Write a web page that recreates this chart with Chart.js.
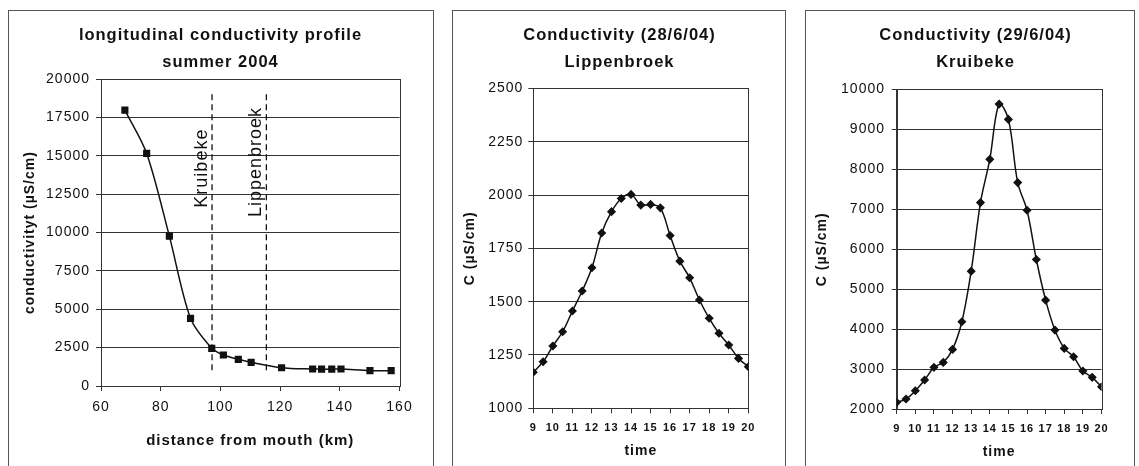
<!DOCTYPE html>
<html>
<head>
<meta charset="utf-8">
<script src="https://cdn.jsdelivr.net/npm/chart.js@4"></script>
<style>
  body { margin: 0; background: #fff; width: 1139px; height: 466px; overflow: hidden; position: relative; }
  .panel { position: absolute; top: 10px; height: 470px; box-sizing: border-box; border: 1px solid #555; }
  canvas { position: absolute; }
</style>
</head>
<body>
<div class="panel" style="left:8px;width:426px"></div>
<div class="panel" style="left:452px;width:334px"></div>
<div class="panel" style="left:805px;width:330px"></div>
<canvas id="myChart1" width="423" height="455" style="left:9px;top:11px"></canvas>
<canvas id="myChart2" width="331" height="455" style="left:453px;top:11px"></canvas>
<canvas id="myChart3" width="327" height="455" style="left:806px;top:11px"></canvas>
<script>
// longitudinal profile (distance from mouth, km / conductivity, uS/cm)
const distKm = [68, 75.3, 82.9, 90, 97.1, 101, 106, 110.3, 120.5, 130.9, 133.9, 137.3, 140.4, 150.1, 157.2];
const profileCond = [17980, 15160, 9770, 4410, 2456, 2020, 1740, 1544, 1192, 1105, 1100, 1100, 1105, 997, 997];
const siteNames = ['Kruibeke', 'Lippenbroek'];
const siteKm = [97.2, 115.4];
const siteLineRange = [1020, 19220];

// time of day (hours)
const hours = [9, 9.5, 10, 10.5, 11, 11.5, 12, 12.5, 13, 13.5, 14, 14.5, 15, 15.5, 16, 16.5, 17, 17.5, 18, 18.5, 19, 19.5, 20];
// Lippenbroek 28/6/04
const lippenCond = [1169, 1218, 1292, 1359, 1456, 1550, 1659, 1822, 1922, 1984, 2003, 1953, 1956, 1940, 1810, 1690, 1612, 1508, 1422, 1352, 1297, 1234, 1195];
// Kruibeke 29/6/04
const kruibekeCond = [2167, 2250, 2458, 2725, 3042, 3167, 3492, 4183, 5450, 7167, 8250, 9633, 9250, 7667, 6975, 5742, 4725, 3975, 3517, 3308, 2950, 2792, 2558];

Chart.defaults.font.family = '"Liberation Sans", Arial, sans-serif';
Chart.defaults.color = '#111';

const ink = '#111';
const gridCol = '#333';

// scanned excel text is a bit spread out
const spacing = {
    id: 'spacing',
    beforeUpdate(chart) { chart.ctx.letterSpacing = '1px'; },
    beforeDraw(chart) { chart.ctx.letterSpacing = '1px'; }
};

// excel centres the title on the whole panel, not on the plot
const centerTitle = {
    id: 'centerTitle',
    defaults: {shift: 0},
    afterLayout(chart, args, opts) {
        const t = chart.titleBlock;
        if (!t) return;
        t.left = opts.shift;
        t.right = chart.width + opts.shift;
        t.width = chart.width;
    }
};

// box round the plot area
const plotFrame = {
    id: 'plotFrame',
    beforeDatasetsDraw(chart) {
        const {ctx, chartArea: a} = chart;
        ctx.save();
        ctx.strokeStyle = gridCol;
        ctx.lineWidth = 1;
        ctx.strokeRect(Math.round(a.left) + 0.5, Math.round(a.top) + 0.5, Math.round(a.right - a.left), Math.round(a.bottom - a.top));
        ctx.restore();
    }
};

// rotated names next to the dashed site lines
const siteLabels = {
    id: 'siteLabels',
    afterDatasetsDraw(chart) {
        const {ctx, scales: {x, y}} = chart;
        const labelAt = [14200, 14600];
        ctx.save();
        ctx.font = '18px "Liberation Sans", Arial, sans-serif';
        ctx.fillStyle = ink;
        ctx.textAlign = 'center';
        ctx.textBaseline = 'middle';
        siteNames.forEach((name, i) => {
            ctx.save();
            ctx.translate(x.getPixelForValue(siteKm[i]) - 10, y.getPixelForValue(labelAt[i]));
            ctx.rotate(-Math.PI / 2);
            ctx.fillText(name, 0, 0);
            ctx.restore();
        });
        ctx.restore();
    }
};

function titleOpts(lines, padBottom) {
    return {
        display: true,
        text: lines,
        color: ink,
        font: {size: 16.5, weight: 'bold', lineHeight: 1.64},
        padding: {top: 10.5, bottom: padBottom}
    };
}

function timeChart(canvas, data, o) {
    return new Chart(canvas, {
        type: 'line',
        data: {
            datasets: [{
                data: hours.map((h, i) => ({x: h, y: data[i]})),
                borderColor: ink,
                backgroundColor: ink,
                borderWidth: 1.5,
                pointStyle: 'rectRot',
                pointRadius: 3.5,
                tension: 0.35
            }]
        },
        options: {
            responsive: false,
            animation: false,
            layout: {padding: {right: o.padRight}},
            plugins: {
                legend: {display: false},
                tooltip: {enabled: false},
                title: titleOpts(o.title, o.titleGap),
                centerTitle: {shift: o.titleShift}
            },
            scales: {
                x: {
                    type: 'linear',
                    min: 9, max: 20,
                    afterFit: s => { s.height = o.xHeight; },
                    ticks: {stepSize: 1, autoSkip: false, maxRotation: 0, padding: 8, color: ink, font: {size: 11, weight: 'bold'}},
                    grid: {drawOnChartArea: false, tickLength: 5, color: gridCol},
                    border: {color: gridCol},
                    title: {display: true, text: 'time', color: ink, font: {size: 14, weight: 'bold'}, padding: {bottom: o.xTitleGap}}
                },
                y: {
                    min: o.yMin, max: o.yMax,
                    afterFit: s => { s.width = o.yWidth; },
                    ticks: {stepSize: o.yStep, padding: o.yPad, color: ink, font: {size: 14}, callback: v => String(v)},
                    grid: {color: gridCol, tickLength: 5},
                    border: {color: gridCol},
                    title: {display: true, text: 'C (µS/cm)', color: ink, font: {size: 14, weight: 'bold'}, padding: {top: o.yTitleGap}}
                }
            }
        },
        plugins: [spacing, centerTitle, plotFrame]
    });
}

document.addEventListener('DOMContentLoaded', () => {

    const ctx1 = document.getElementById('myChart1');
    const ctx2 = document.getElementById('myChart2');
    const ctx3 = document.getElementById('myChart3');

    // longitudinal profile with the two sampling sites
    const siteSets = siteKm.map(km => ({
        data: [{x: km, y: siteLineRange[0]}, {x: km, y: siteLineRange[1]}],
        borderColor: ink,
        borderWidth: 1.3,
        borderDash: [6, 4],
        pointRadius: 0,
        tension: 0
    }));

    new Chart(ctx1, {
        type: 'line',
        data: {
            datasets: [{
                data: distKm.map((d, i) => ({x: d, y: profileCond[i]})),
                borderColor: ink,
                backgroundColor: ink,
                borderWidth: 1.5,
                pointStyle: 'rect',
                pointRadius: 4,
                tension: 0.3
            }, ...siteSets]
        },
        options: {
            responsive: false,
            animation: false,
            layout: {padding: {right: 32.5}},
            plugins: {
                legend: {display: false},
                tooltip: {enabled: false},
                title: titleOpts(['longitudinal conductivity profile', 'summer 2004'], 3.5),
                centerTitle: {shift: 0}
            },
            scales: {
                x: {
                    type: 'linear',
                    min: 60, max: 160,
                    afterFit: s => { s.height = 80; },
                    ticks: {stepSize: 20, maxRotation: 0, padding: 8, color: ink, font: {size: 14}},
                    grid: {drawOnChartArea: false, tickLength: 5, color: gridCol},
                    border: {color: gridCol},
                    title: {display: true, text: 'distance from mouth (km)', color: ink, font: {size: 15, weight: 'bold'}, padding: {bottom: 16}}
                },
                y: {
                    min: 0, max: 20000,
                    afterFit: s => { s.width = 92; },
                    ticks: {stepSize: 2500, padding: 6, color: ink, font: {size: 14}, callback: v => String(v)},
                    grid: {color: gridCol, tickLength: 5},
                    border: {color: gridCol},
                    title: {display: true, text: 'conductivityt (µS/cm)', color: ink, font: {size: 14, weight: 'bold'}, padding: {top: 12.6}}
                }
            }
        },
        plugins: [spacing, centerTitle, plotFrame, siteLabels]
    });

    timeChart(ctx2, lippenCond, {
        title: ['Conductivity (28/6/04)', 'Lippenbroek'],
        titleGap: 12.8, titleShift: 1, padRight: 35.7,
        xHeight: 57.7, xTitleGap: 6.6,
        yMin: 1000, yMax: 2500, yStep: 250,
        yWidth: 80.3, yPad: 5, yTitleGap: 8.6
    });

    timeChart(ctx3, kruibekeCond, {
        title: ['Conductivity (29/6/04)', 'Kruibeke'],
        titleGap: 13.8, titleShift: 6, padRight: 31.5,
        xHeight: 57, xTitleGap: 5.6,
        yMin: 2000, yMax: 10000, yStep: 1000,
        yWidth: 90.7, yPad: 6.7, yTitleGap: 7.3
    });
});
</script>
</body>
</html>
